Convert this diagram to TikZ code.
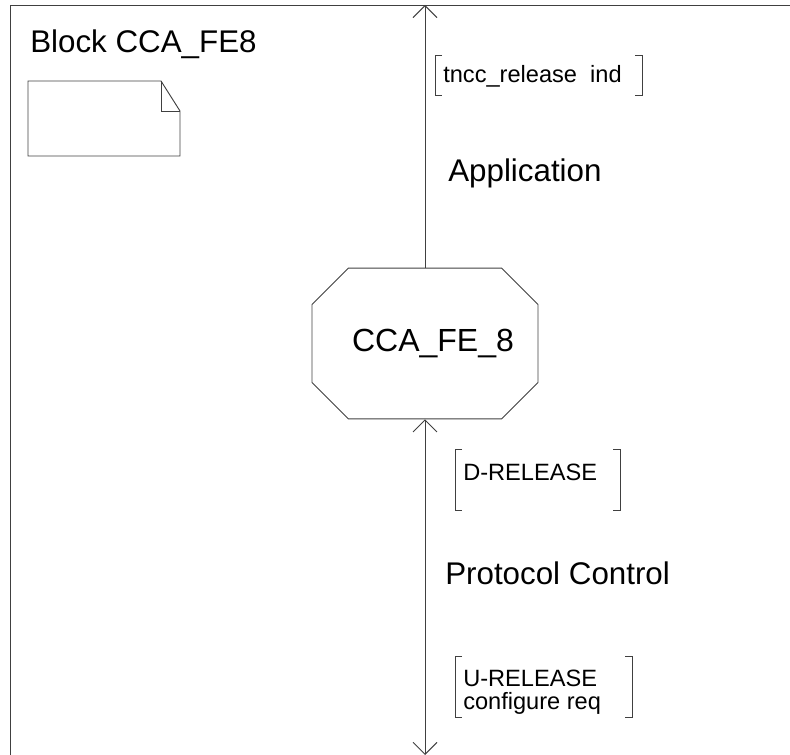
\documentclass[tikz,border=0pt]{standalone}
\usepackage{fontspec}
\setmainfont{Liberation Sans}
\usetikzlibrary{arrows.meta,shapes.misc}

\tikzset{
  >={Straight Barb[length=9pt,width=18pt]},
  frame/.style={line width=0.7pt, draw=black!75},
  label/.style={anchor=base west, inner sep=0pt},
  biglabel/.style={label, font=\fontsize{23.5}{28}\selectfont},
  siglabel/.style={label, align=left, font=\fontsize{17.7}{17.3}\selectfont},
}

\begin{document}
\begin{tikzpicture}[x=0.75pt,y=0.75pt,yscale=-1]
\useasboundingbox (0,0) rectangle (790,755);

% Block frame
\draw [frame] (10,755) -- (10,5) -- (790,5);
\draw (30,53) node [biglabel] {Block CCA\_FE8};

% Text symbol
\draw [frame] (28,81) -- (161,81) -- (180,111) -- (180,156) -- (28,156) -- cycle;
\draw [frame] (161,81) -- (161,111) -- (180,111);

% Process
\node (fe8) [frame, chamfered rectangle, chamfered rectangle xsep=16.5pt,
  chamfered rectangle ysep=16.5pt, minimum width=169.5pt, minimum height=113pt,
  inner sep=0pt, font=\fontsize{24}{28}\selectfont] at (425,343.5) {\hspace{12pt}\raisebox{-4pt}{CCA\_FE\_8}};

% Channel ends
\coordinate (appEnd) at (425,5);
\coordinate (pcEnd) at (425,755);

% Channels
\draw [frame, ->] (fe8.north) -- (appEnd);
\draw [frame, <->] (pcEnd) -- (fe8.south);

% Channel names
\draw (448,182) node [biglabel] {Application};
\draw (445,585) node [biglabel] {Protocol Control};

% Signal lists
\draw (443,83) node [siglabel] {tncc\_release~~ind};
\draw [frame] (442,55) -- (435,55) -- (435,95) -- (442,95);
\draw [frame] (635,55) -- (642,55) -- (642,95) -- (635,95);

\draw (463,481) node [siglabel] {D-RELEASE};
\draw [frame] (462,449) -- (455,449) -- (455,510) -- (462,510);
\draw [frame] (613,449) -- (620,449) -- (620,510) -- (613,510);

\draw (463,710) node [siglabel] {U-RELEASE\\configure req};
\draw [frame] (462,656) -- (455,656) -- (455,717) -- (462,717);
\draw [frame] (625,656) -- (632,656) -- (632,717) -- (625,717);

\end{tikzpicture}
\end{document}
